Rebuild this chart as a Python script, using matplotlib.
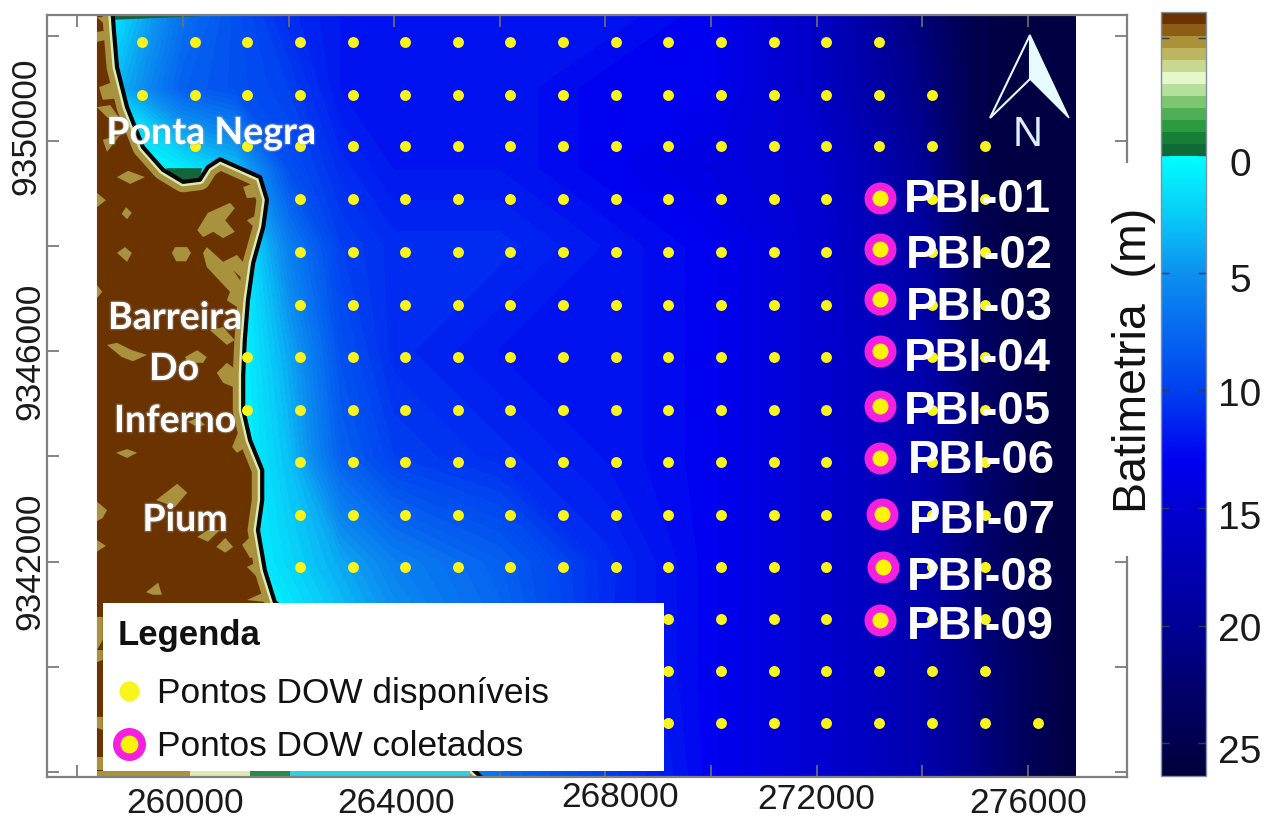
#!/usr/bin/env python3
"""Batimetria com pontos DOW disponiveis e coletados (UTM, metros)."""

import numpy as np
import matplotlib
matplotlib.use("Agg")
import matplotlib.pyplot as plt
import matplotlib.patheffects as pe
from matplotlib.cm import ScalarMappable
from matplotlib.colors import LinearSegmentedColormap, Normalize
from matplotlib.patches import Polygon, Rectangle
from matplotlib.transforms import ScaledTranslation

plt.rcParams["font.family"] = ["Liberation Sans", "DejaVu Sans"]

W, H = 1279, 818

# ---- Data ----
# depth grid, km UTM
depth_x = [258.39, 260, 261, 262, 263, 264, 266, 268, 270, 272, 274, 275, 276, 276.91]
depth_y = [9337.9, 9340, 9342, 9344, 9346, 9348, 9349.5, 9351, 9352.4]
depth = [
    [0, 0, 0, 0, 1, 3, 7, 10, 13, 15, 18, 21, 24, 26],
    [0, 0, 0, 0, 2, 4, 7, 11, 13, 15, 18, 21, 24, 26],
    [0, 0, 0, 2, 4, 6, 8, 11, 13, 15, 18, 22, 25, 26],
    [0, 0, 0, 3, 8, 10, 11, 12, 13, 15, 18, 22, 25, 26],
    [0, 0, 0, 4, 9, 11, 12, 12, 13, 15, 18, 23, 25, 26],
    [0, 0, 0, 6, 10, 11, 11, 12, 13, 15, 19, 24, 26, 26],
    [0, 1, 3, 9, 11, 12, 12, 13, 14, 15, 20, 25, 26, 26],
    [2, 8, 9, 10, 12, 12, 12, 13, 13, 16, 21, 25, 26, 26],
    [0, 7, 9, 11, 12, 12, 12, 12, 13, 16, 22, 25, 26, 26],
]

dow_x = [259220, 260230, 261210, 262220, 263220, 264200, 265210, 266190, 267200,
         268200, 269190, 270190, 271190, 272180, 273180, 274190, 275190, 276190]
dow_y = [9351880, 9350870, 9349900, 9348895, 9347890, 9346880, 9345890,
         9344880, 9343890, 9342885, 9341895, 9340905, 9339915, 9338925]
row_first = [0, 0, 1, 3, 3, 3, 2, 2, 3, 3, 3, 3, 3, 3]
row_last = [14, 15, 16, 16, 16, 16, 16, 16, 16, 16, 16, 16, 16, 17]

pbi_names = ["PBI-01", "PBI-02", "PBI-03", "PBI-04", "PBI-05", "PBI-06", "PBI-07", "PBI-08", "PBI-09"]
pbi_x = [273200, 273200, 273200, 273200, 273200, 273200, 273240, 273260, 273200]
pbi_y = [9348910, 9347940, 9346990, 9346000, 9344960, 9343970, 9342905, 9341900, 9340890]

# coastline, km UTM
coast = [(258.67, 9352.39), (258.69, 9352.11), (258.75, 9351.40), (258.94, 9350.64),
         (259.24, 9349.88), (259.62, 9349.45), (260.00, 9349.22), (260.32, 9349.26),
         (260.47, 9349.50), (260.70, 9349.65), (261.08, 9349.48), (261.46, 9349.31),
         (261.59, 9348.88), (261.52, 9348.36), (261.33, 9347.68), (261.23, 9346.97),
         (261.17, 9346.21), (261.14, 9345.55), (261.14, 9344.88), (261.27, 9344.31),
         (261.50, 9343.74), (261.50, 9343.17), (261.42, 9342.60), (261.55, 9341.84),
         (261.74, 9341.23), (264.11, 9339.37), (265.63, 9337.92)]
land_corners = [(258.37, 9337.92), (258.37, 9352.39)]

# lighter patches on land, km UTM
land_spots = [
    [(258.75, 9349.31), (258.96, 9349.43), (259.28, 9349.31), (259.00, 9349.18)],
    [(258.37, 9349.01), (258.54, 9348.87), (258.37, 9348.74)],
    [(258.92, 9348.74), (259.03, 9348.63), (258.94, 9348.51), (258.84, 9348.61)],
    [(260.27, 9348.30), (260.47, 9348.63), (260.89, 9348.82), (260.98, 9348.72),
     (260.80, 9348.49), (260.98, 9348.27), (260.76, 9348.15), (260.57, 9348.27), (260.38, 9348.17)],
    [(258.90, 9347.98), (259.03, 9347.87), (258.94, 9347.70), (258.75, 9347.87)],
    [(259.85, 9347.98), (260.08, 9347.98), (260.15, 9347.87), (260.06, 9347.71),
     (259.87, 9347.71), (259.79, 9347.87)],
    [(260.38, 9347.87), (260.45, 9347.98), (260.76, 9347.70), (261.02, 9347.83),
     (261.27, 9347.54), (261.21, 9347.30), (260.95, 9347.54), (261.21, 9347.16),
     (261.02, 9346.84), (260.83, 9346.97), (260.89, 9347.13), (260.45, 9347.60)],
    [(258.37, 9347.26), (258.47, 9347.13), (258.37, 9347.01)],
    [(260.51, 9346.40), (260.76, 9346.46), (260.98, 9346.21), (260.83, 9346.12)],
    [(258.56, 9346.12), (258.75, 9346.16), (259.03, 9346.02), (259.32, 9345.93),
     (259.05, 9345.81), (258.84, 9345.89)],
    [(260.04, 9345.89), (260.27, 9346.02), (260.45, 9345.89), (260.38, 9345.78), (260.08, 9345.78)],
    [(260.64, 9345.59), (260.83, 9345.78), (261.02, 9345.64), (260.95, 9345.32), (260.76, 9345.40)],
    [(260.09, 9344.66), (260.27, 9344.73), (260.42, 9344.60), (260.27, 9344.56)],
    [(260.93, 9344.18), (261.04, 9344.45), (261.21, 9344.18), (261.02, 9344.07)],
    [(258.73, 9344.07), (258.94, 9344.14), (259.13, 9344.07), (258.94, 9343.97)],
    [(259.49, 9343.17), (259.89, 9343.48), (260.08, 9343.31), (259.85, 9343.04)],
    [(258.37, 9343.14), (258.56, 9342.98), (258.48, 9342.83), (258.37, 9342.77)],
    [(258.37, 9342.41), (258.54, 9342.30), (258.37, 9342.19)],
    [(260.27, 9342.47), (260.47, 9342.60), (260.70, 9342.60), (260.47, 9342.38)],
    [(260.63, 9342.28), (260.80, 9342.45), (260.95, 9342.28), (260.80, 9342.17)],
    [(261.12, 9342.32), (261.27, 9342.47), (261.40, 9342.09), (261.27, 9342.07)],
    [(261.21, 9341.90), (261.40, 9341.99), (261.52, 9341.65), (261.40, 9341.71)],
    [(259.30, 9341.42), (259.53, 9341.60), (259.60, 9341.37), (259.43, 9341.37)],
    [(261.21, 9341.27), (261.52, 9341.41), (261.70, 9341.22)],
    [(258.41, 9351.02), (258.62, 9351.10), (258.81, 9350.81), (258.48, 9350.78)],
    [(258.37, 9350.64), (258.62, 9350.68), (258.86, 9350.34), (258.56, 9350.45)],
    [(258.48, 9350.02), (258.81, 9350.11), (258.56, 9349.79)],
    [(258.37, 9352.07), (258.62, 9352.11), (258.66, 9351.95), (258.37, 9351.88)],
    [(258.37, 9352.35), (258.66, 9352.35), (258.58, 9352.16)],
    [(261.14, 9349.12), (261.40, 9349.22), (261.40, 9348.93), (261.21, 9348.91)],
    [(261.21, 9348.49), (261.40, 9348.59), (261.40, 9348.30)],
    [(261.21, 9347.92), (261.40, 9348.11), (261.33, 9347.60), (261.21, 9347.68)],
    [(258.37, 9340.95), (258.48, 9340.95), (258.48, 9340.51), (258.37, 9340.32)],
    [(258.37, 9340.32), (258.48, 9340.32), (258.48, 9340.13), (258.37, 9340.09)],
    [(258.37, 9339.05), (258.48, 9339.05), (258.48, 9338.80), (258.37, 9338.84)],
    [(258.37, 9338.29), (258.48, 9338.29), (258.48, 9338.04), (258.37, 9338.04)],
]
bay_green = [(259.68, 9349.48), (260.36, 9349.48), (260.32, 9349.29), (260.00, 9349.22), (259.75, 9349.35)]
top_green = [(258.67, 9352.39), (260.80, 9352.39), (258.67, 9352.30)]

strip_edges = [258.37, 260.13, 261.27, 262.03, 265.44]
strip_colors = ["#a8923e", "#dcebb4", "#2a8a48", "#30d0e0"]

# colorbar
cbar_ticks = [-5, 0, 5, 10, 15, 20, 25]
cbar_labels = ["", "0", "5", "10", "15", "20", "25"]
cbar_min, cbar_max = -6.1, 26.4
land_bands = ["#6b3200", "#8b5e14", "#ab9238", "#bdb55f", "#c9d88f", "#e6f7c9",
              "#b5e09c", "#7cc670", "#4eaf55", "#2a9a3e", "#157f36", "#0e6b38"]
sea_depths = [0, 2.5, 5, 7.5, 10, 13, 15, 20, 23, 26.4]
sea_colors = ["#00ffff", "#08ccf8", "#0c90f0", "#0668f0", "#0040f0", "#0000f0",
              "#0000d2", "#000096", "#000068", "#00003a"]


def span(v):
    return (v - cbar_min) / (cbar_max - cbar_min)


stops = []
band = (0 - cbar_min) / len(land_bands)
for i, c in enumerate(land_bands):
    stops.append((span(cbar_min + i * band), c))
    stops.append((span(cbar_min + (i + 1) * band), c))
for d, c in zip(sea_depths, sea_colors):
    stops.append((span(d), c))
cmap = LinearSegmentedColormap.from_list("batimetria", stops, N=2048)
norm = Normalize(cbar_min, cbar_max)

# ---- Figure ----
fig = plt.figure(figsize=(W / 100, H / 100), dpi=100)
ax = fig.add_axes([47 / W, 1 - 777 / H, 1080 / W, 762 / H])


def ptext(px, py, s, **kw):
    return fig.text(px / W, 1 - py / H, s, **kw)


X, Y = np.meshgrid(np.array(depth_x) * 1000, np.array(depth_y) * 1000)
ax.contourf(X, Y, np.array(depth, dtype=float), levels=np.linspace(-0.5, 26.4, 70),
            cmap=cmap, norm=norm, zorder=1)

# land
km = lambda pts: np.array(pts) * 1000
coast_m = km(coast)
ax.add_patch(Polygon(km(bay_green), color="#14643c", lw=0, zorder=1.1))
ax.add_patch(Polygon(km(top_green), color="#17623c", lw=0, zorder=1.1))
land = Polygon(km(coast + land_corners), facecolor="#6b3300", edgecolor="none", zorder=1.2)
ax.add_patch(land)
for spot in land_spots:
    p = Polygon(km(spot), facecolor="#a8923e", edgecolor="none", zorder=1.3)
    ax.add_patch(p)
    p.set_clip_path(land)
for lw, color, z in [(15, "#a8923e", 1.4), (6.5, "#dcebb4", 1.5)]:
    line, = ax.plot(coast_m[:, 0], coast_m[:, 1], color=color, lw=lw, zorder=z, solid_joinstyle="round")
    line.set_clip_path(land)
ax.plot(coast_m[:, 0], coast_m[:, 1], color="#050505", lw=3, zorder=1.6)
for i, c in enumerate(strip_colors):
    ax.fill_between([strip_edges[i] * 1000, strip_edges[i + 1] * 1000], 9337906, 9338020,
                    color=c, lw=0, zorder=1.7)

# points
for j, y in enumerate(dow_y):
    xs = dow_x[row_first[j]:row_last[j] + 1]
    ax.scatter(xs, [y] * len(xs), s=62, color="#f8f41c", lw=0, zorder=3)
ax.scatter(pbi_x, pbi_y, s=530, color="#f51fe0", lw=0, zorder=4)
ax.scatter(pbi_x, pbi_y, s=132, color="#fcf400", lw=0, zorder=4.1)

ax.set_xlim(257424, 277879)
ax.set_ylim(9337906, 9352392)
ax.set_xticks(np.arange(258000, 277000, 2000))
ax.set_yticks(np.arange(9338000, 9353000, 2000))
ax.set_xticklabels([str(v) if (v - 260000) % 4000 == 0 else "" for v in ax.get_xticks()])
ax.set_yticklabels([str(v) if v in (9342000, 9346000, 9350000) else "" for v in ax.get_yticks()],
                   rotation=90, va="center")
ax.tick_params(direction="in", length=8.5, width=1.2, color="#707070", labelsize=25.5,
               labelcolor="#1a1a1a", top=True, right=True, pad=7)
for s in ax.spines.values():
    s.set_color("#808080")
    s.set_linewidth(1.6)

# tick labels are not quite at their ticks in the original
x_shift = {"264000": (2, 0), "260000": (2, 0), "268000": (15, 6), "272000": (0, 4), "276000": (0, 0)}
y_shift = {"9350000": (5, 15), "9346000": (9, 0), "9342000": (9, 0)}
for lab in ax.get_xticklabels():
    if lab.get_text() in x_shift:
        dx, dy = x_shift[lab.get_text()]
        lab.set_transform(lab.get_transform() + ScaledTranslation(dx / 100, dy / 100, fig.dpi_scale_trans))
for lab in ax.get_yticklabels():
    if lab.get_text() in y_shift:
        dx, dy = y_shift[lab.get_text()]
        lab.set_transform(lab.get_transform() + ScaledTranslation(dx / 100, dy / 100, fig.dpi_scale_trans))

# gap in the right frame
ax.add_patch(Rectangle((1105 / W, 1 - 556 / H), 30 / W, 393 / H, transform=fig.transFigure,
                       facecolor="white", edgecolor="none", clip_on=False, zorder=5))

# north arrow
to_fig = lambda pts: [(a / W, 1 - b / H) for a, b in pts]
ax.add_patch(Polygon(to_fig([(1030, 35), (1069, 118), (1030, 79)]), transform=fig.transFigure,
                     facecolor="#e6fbff", edgecolor="#e6fbff", lw=1, clip_on=False, zorder=6))
ax.add_patch(Polygon(to_fig([(1030, 35), (990, 118), (1030, 79)]), transform=fig.transFigure,
                     facecolor="none", edgecolor="#e6fbff", lw=1.5, clip_on=False, zorder=6))
ptext(1028, 135, "N", color="#dcefff", fontsize=30, ha="center", va="center")

# place names
glow = [pe.withStroke(linewidth=2, foreground="#9aa8b8", alpha=0.3)]
for px, py, s in [(211, 133, "Ponta Negra"), (175, 318, "Barreira"), (174, 369, "Do"),
                  (175, 421, "Inferno"), (185, 520, "Pium")]:
    ptext(px, py, s, color="white", fontsize=27, fontfamily="Lato", fontweight="bold",
          ha="center", va="center", path_effects=glow)

# PBI labels
pbi_px = [904, 906, 906, 904, 904, 908, 909, 907, 907]
pbi_py = [200, 256, 308, 359, 412, 461, 521, 578, 627]
for name, px, py in zip(pbi_names, pbi_px, pbi_py):
    ptext(px, py, name, color="white", fontsize=34, fontweight="bold", ha="left", va="center")

# legend box
leg = fig.add_axes([103 / W, 1 - 771 / H, 561 / W, 168 / H], zorder=2)
leg.set_xlim(103, 664)
leg.set_ylim(771, 603)
leg.set_xticks([])
leg.set_yticks([])
for s in leg.spines.values():
    s.set_visible(False)
leg.scatter([129], [691], s=208, color="#f8f41c", lw=0)
leg.scatter([129], [744], s=565, color="#f51fe0", lw=0)
leg.scatter([129], [744], s=165, color="#fcf400", lw=0)
leg.text(118, 635, "Legenda", fontsize=25, fontweight="bold", va="center", color="#111111")
leg.text(157, 693, "Pontos DOW disponíveis", fontsize=25.4, va="center", color="#111111")
leg.text(157, 746, "Pontos DOW coletados", fontsize=25.4, va="center", color="#111111")

# colorbar
cax = fig.add_axes([1161 / W, 1 - 776 / H, 45 / W, 764 / H])
cbar = fig.colorbar(ScalarMappable(norm=norm, cmap=cmap), cax=cax)
cbar.ax.invert_yaxis()
cbar.set_ticks(cbar_ticks)
cbar.set_ticklabels(cbar_labels)
cbar.minorticks_off()
cbar.outline.set_edgecolor("#8090a0")
cbar.outline.set_linewidth(1)
cax.tick_params(direction="in", left=True, right=True, length=6, width=1, color="#303a50",
                labelsize=28, labelcolor="#1a1a1a", pad=24.5)
cb_shift = {"0": 7, "5": 5, "10": 2, "15": 7, "20": 1, "25": 6}
for lab in cax.get_yticklabels():
    lab.set_ha("center")
    if lab.get_text() in cb_shift:
        lab.set_transform(lab.get_transform()
                          + ScaledTranslation(0, -cb_shift[lab.get_text()] / 100, fig.dpi_scale_trans))
ptext(1134, 360, "Batimetria  (m)", fontsize=33.5, rotation=90, ha="center", va="center", color="#111111")

fig.savefig("out.png", dpi=100)
